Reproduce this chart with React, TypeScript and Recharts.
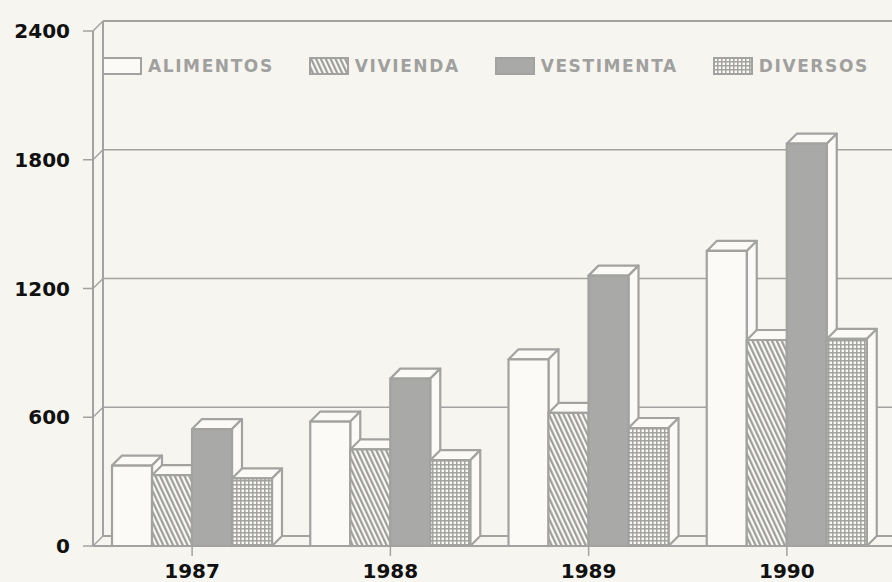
import React from 'react';
import { BarChart, Bar, XAxis, YAxis, CartesianGrid } from 'recharts';

const years = ['1987', '1988', '1989', '1990'];
const alimentos = [375, 580, 870, 1375];
const vivienda = [330, 450, 620, 960];
const vestimenta = [545, 780, 1260, 1875];
const diversos = [315, 400, 550, 965];
const yTicks = [0, 600, 1200, 1800, 2400];

const series = [
  { key: 'alimentos', name: 'ALIMENTOS', fill: '#fbfaf6' },
  { key: 'vivienda', name: 'VIVIENDA', fill: 'url(#hatch)' },
  { key: 'vestimenta', name: 'VESTIMENTA', fill: '#a9a9a7' },
  { key: 'diversos', name: 'DIVERSOS', fill: 'url(#dots)' },
];

const data = years.map((year, i) => ({
  year,
  alimentos: alimentos[i],
  vivienda: vivienda[i],
  vestimenta: vestimenta[i],
  diversos: diversos[i],
}));

const W = 892;
const H = 582;
const TOP = 31;
const X_AXIS_H = 36;
const Y_AXIS_W = 93;
const BOTTOM = H - X_AXIS_H;
const DX = 10;
const DY = 10;
const LINE = '#a2a2a0';
const PAPER = '#f7f5ef';
const FONT = '"DejaVu Sans", sans-serif';

const axisTick = { fill: '#111', fontFamily: FONT, fontWeight: 'bold', fontSize: 20, letterSpacing: 0 };

// box with a top face and a right side face
const Bar3D = (props: any) => {
  const { x, y, width, height, fill } = props;
  if (!height || height <= 0) return null;
  const r = x + width;
  return (
    <g stroke={LINE} strokeWidth={2.2} strokeLinejoin="round">
      <polygon points={`${x},${y} ${x + DX},${y - DY} ${r + DX},${y - DY} ${r},${y}`} fill="#fbfaf6" />
      <polygon points={`${r},${y} ${r + DX},${y - DY} ${r + DX},${y + height - DY} ${r},${y + height}`} fill="#fbfaf6" />
      <rect x={x} y={y} width={width} height={height} fill={fill} />
    </g>
  );
};

// back wall lines, pushed back by the depth offset
const WallLine = (props: any) => {
  const { x1, y1 } = props;
  const isTop = Math.abs(y1 - TOP) < 1;
  const isBottom = Math.abs(y1 - BOTTOM) < 1;
  return (
    <g key={props.key} stroke={LINE} fill="none">
      <line x1={x1 + DX} y1={y1 - DY} x2={W} y2={y1 - DY} strokeWidth={isTop || isBottom ? 2 : 1.3} />
      <line x1={x1} y1={y1} x2={x1 + DX} y2={y1 - DY} strokeWidth={1.5} />
      {isTop && <line x1={x1 + DX} y1={y1 - DY} x2={x1 + DX} y2={BOTTOM - DY} strokeWidth={2} />}
      {isBottom && <line x1={x1} y1={y1} x2={W} y2={y1} strokeWidth={2} />}
    </g>
  );
};

const Swatch = ({ fill }: { fill: string }) => (
  <svg width={40} height={18}>
    <rect x={1} y={1} width={38} height={16} fill={fill} stroke={LINE} strokeWidth={2} />
  </svg>
);

export default function App() {
  return (
    <div style={{ position: 'absolute', left: 0, top: 0, width: W, height: H, background: PAPER }}>
      <BarChart
        width={W}
        height={H}
        data={data}
        margin={{ top: TOP, right: 6, bottom: 0, left: 0 }}
        barGap={0}
        barSize={40}
      >
        <defs>
          <pattern id="hatch" width="4.4" height="4.4" patternUnits="userSpaceOnUse" patternTransform="rotate(-25)">
            <rect width="4.4" height="4.4" fill="#fbfaf6" />
            <line x1="1.2" y1="0" x2="1.2" y2="4.4" stroke="#979795" strokeWidth="2.1" />
          </pattern>
          <pattern id="dots" width="4" height="4" patternUnits="userSpaceOnUse">
            <rect width="4" height="4" fill="#a3a3a1" />
            <rect x="1.5" y="1.5" width="2.5" height="2.5" fill="#fbfaf6" />
          </pattern>
        </defs>
        <CartesianGrid vertical={false} horizontal={WallLine} />
        <XAxis
          dataKey="year"
          height={X_AXIS_H}
          interval={0}
          axisLine={false}
          tickLine={{ stroke: LINE, strokeWidth: 1.5 }}
          tickSize={10}
          tickMargin={8}
          tick={axisTick}
        />
        <YAxis
          width={Y_AXIS_W}
          domain={[0, 2400]}
          ticks={yTicks}
          interval={0}
          axisLine={{ stroke: LINE, strokeWidth: 2 }}
          tickLine={{ stroke: LINE, strokeWidth: 1.5 }}
          tickSize={10}
          tickMargin={13}
          tick={axisTick}
        />
        {series.map((s) => (
          <Bar key={s.key} dataKey={s.key} name={s.name} fill={s.fill} shape={Bar3D} isAnimationActive={false} />
        ))}
      </BarChart>
      <div
        style={{
          position: 'absolute',
          left: 102,
          top: 56,
          display: 'flex',
          alignItems: 'center',
          gap: 35,
          fontFamily: FONT,
          fontWeight: 'bold',
          fontSize: 17,
          letterSpacing: 1.6,
          color: '#a0a09e',
          whiteSpace: 'nowrap',
        }}
      >
        {series.map((s) => (
          <div key={s.key} style={{ display: 'flex', alignItems: 'center', gap: 6 }}>
            <Swatch fill={s.fill} />
            <span>{s.name}</span>
          </div>
        ))}
      </div>
    </div>
  );
}
